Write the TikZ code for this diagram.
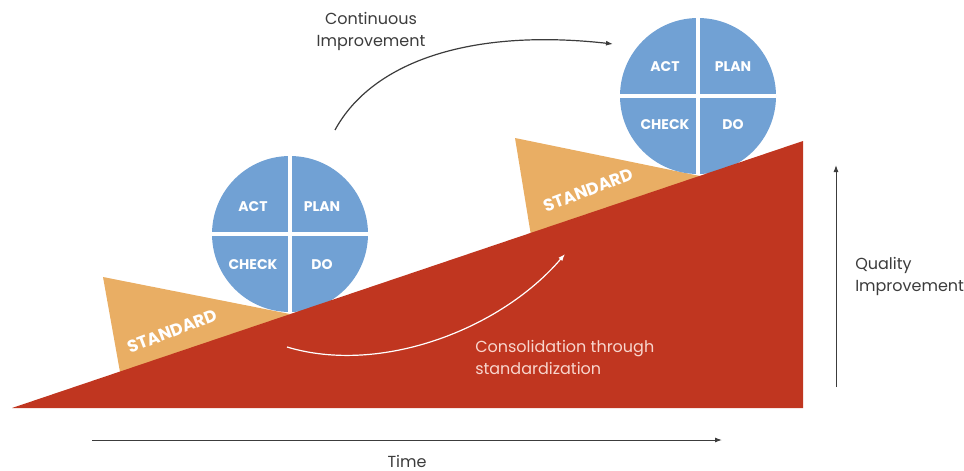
\documentclass[tikz,border=0pt]{standalone}
\usepackage{fontspec}
\setmainfont{Poppins}
\usetikzlibrary{arrows.meta,positioning}
\definecolor{rampred}{RGB}{192,54,32}
\definecolor{stdorange}{RGB}{233,174,100}
\definecolor{pdcablue}{RGB}{113,161,212}
\definecolor{labelgrey}{RGB}{60,60,60}
\definecolor{consopink}{RGB}{248,214,206}
\tikzset{every picture/.style={line width=0.5pt}}
\tikzset{
  pdca/.style={circle,fill=pdcablue,minimum size=156pt,inner sep=0pt},
  cross/.style={white,line width=3.5pt},
  quad/.style={font=\fontsize{14}{16}\selectfont\bfseries,text=white,inner sep=1pt},
  stdtext/.style={font=\fontsize{17}{19}\selectfont\bfseries,text=white,rotate=21,inner sep=1pt},
  caption/.style={font=\fontsize{16}{22}\selectfont,text=labelgrey,align=center,inner sep=1pt},
  axis/.style={-{Latex[length=7pt,width=5pt]},line width=1pt,draw=labelgrey}
}

\begin{document}
\begin{tikzpicture}[x=1pt,y=-1pt]
\useasboundingbox (0,0) rectangle (964,471);
% standards under the circles
\fill[stdorange] (103,277) -- (290,314) -- (125,400) -- cycle;
\fill[stdorange] (515,138) -- (700,176) -- (535,260) -- cycle;
% PDCA wheels
\node[pdca] (W1) at (290,234) {};
\draw[cross] (W1.north) -- (W1.south) (W1.west) -- (W1.east);
\node[pdca] (W2) at (698,96) {};
\draw[cross] (W2.north) -- (W2.south) (W2.west) -- (W2.east);
% ramp
\fill[rampred] (12,408) -- (803,141) -- (803,408) -- cycle;
% wheel labels
\node[quad] (act1) at (253,207) {ACT};
\node[quad] (plan1) at (322,207) {PLAN};
\node[quad] (check1) at (253,265) {CHECK};
\node[quad] (do1) at (322,265) {DO};
\node[quad] (act2) at (665,67) {ACT};
\node[quad] (plan2) at (733,67) {PLAN};
\node[quad] (check2) at (665,125) {CHECK};
\node[quad] (do2) at (733,125) {DO};
\node[stdtext] (std1) at (172,331) {STANDARD};
\node[stdtext] (std2) at (588,190) {STANDARD};
% captions
\node[caption] (ci) at (371,31) {Continuous\\Improvement};
\node[caption,text=consopink,align=left,anchor=west] (cs) at (474,357) {Consolidation through\\standardization};
\node[caption,align=left,anchor=west] (qi) at (854,276) {Quality\\Improvement};
\node[caption] (time) at (407,461) {Time};
% arrows
\coordinate (ci0) at (335,130);
\coordinate (ci1) at (613,44);
\draw[axis,line width=1.2pt] (ci0) .. controls (372,62) and (470,28) .. (ci1);
\coordinate (cs0) at (287,347);
\coordinate (cs1) at (565,254);
\draw[axis,draw=white,line width=1.2pt] (cs0) .. controls (380,375) and (500,330) .. (cs1);
\coordinate (q0) at (836,387);
\coordinate (q1) at (836,165);
\draw[axis] (q0) -- (q1);
\coordinate (t0) at (92,440);
\coordinate (t1) at (722,440);
\draw[axis] (t0) -- (t1);
\end{tikzpicture}
\end{document}
